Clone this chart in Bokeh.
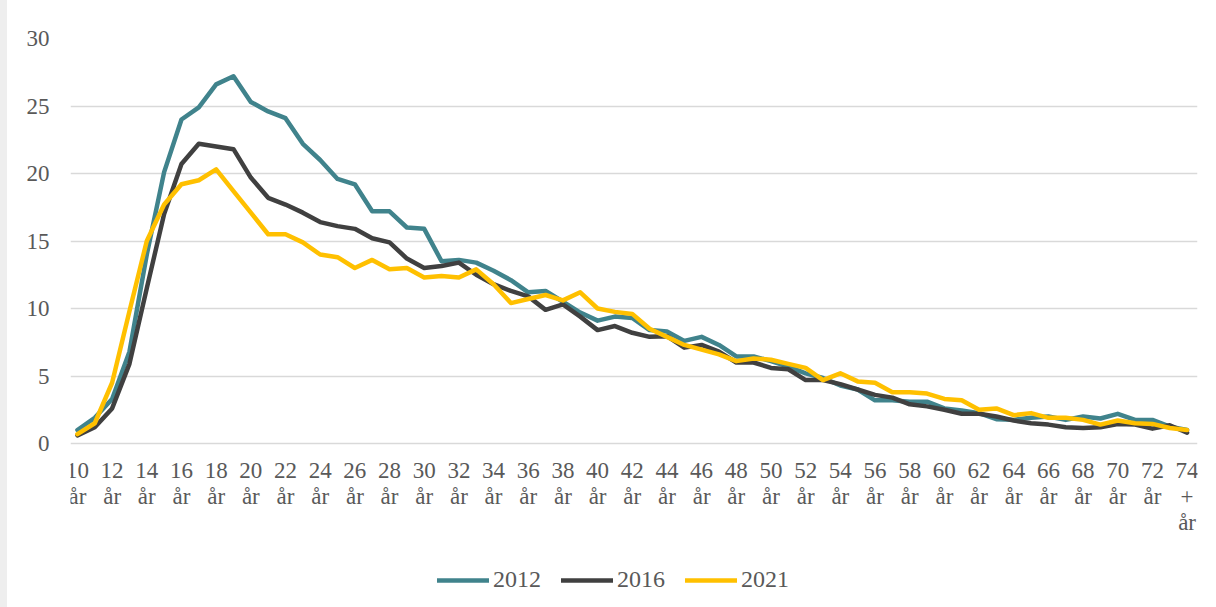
from bokeh.plotting import figure
from bokeh.models import FixedTicker, Legend, LegendItem, LinearAxis, Range1d, Grid
from bokeh.core.properties import value
from bokeh.embed import file_html
from bokeh.resources import INLINE

ages = list(range(10, 75))  # 10 år ... 74+ år
cat_labels = [f"{a} år" for a in ages[:-1]] + ["74+ år"]
tick_pos = [i for i, a in enumerate(ages) if a % 2 == 0]
# tick labels, one row per text line
row1 = [str(ages[i]) for i in tick_pos]
row2 = ["år" if ages[i] < 74 else "+" for i in tick_pos]
row3_pos = [tick_pos[-1]]
row3 = ["år"]

y_ticks = [0, 5, 10, 15, 20, 25, 30]

s2012 = [1.0, 1.9, 3.3, 6.8, 14.0, 20.1, 24.0, 24.9, 26.6, 27.2, 25.3, 24.6, 24.1, 22.2, 21.0, 19.6,
         19.2, 17.2, 17.2, 16.0, 15.9, 13.5, 13.6, 13.4, 12.8, 12.1, 11.2, 11.3, 10.5, 9.7, 9.1, 9.4,
         9.3, 8.4, 8.3, 7.6, 7.9, 7.3, 6.45, 6.45, 6.1, 5.7, 5.2, 4.85, 4.3, 4.0, 3.2, 3.2, 3.1, 3.1,
         2.6, 2.45, 2.25, 1.8, 1.75, 1.9, 2.0, 1.75, 2.0, 1.85, 2.2, 1.75, 1.75, 1.25, 1.0]
s2016 = [0.6, 1.2, 2.6, 5.9, 11.5, 17.0, 20.7, 22.2, 22.0, 21.8, 19.7, 18.2, 17.7, 17.1, 16.4, 16.1,
         15.9, 15.2, 14.9, 13.7, 13.0, 13.15, 13.4, 12.5, 11.8, 11.3, 10.9, 9.9, 10.3, 9.4, 8.4, 8.7,
         8.2, 7.9, 7.95, 7.1, 7.3, 6.8, 6.0, 6.0, 5.6, 5.5, 4.7, 4.7, 4.4, 4.0, 3.6, 3.4, 2.9, 2.75,
         2.5, 2.2, 2.2, 2.0, 1.7, 1.5, 1.4, 1.2, 1.15, 1.2, 1.45, 1.4, 1.1, 1.35, 0.8]
s2021 = [0.7, 1.5, 4.5, 9.8, 15.0, 17.7, 19.2, 19.5, 20.3, 18.7, 17.1, 15.5, 15.5, 14.9, 14.0, 13.8,
         13.0, 13.6, 12.9, 13.0, 12.3, 12.4, 12.3, 12.9, 11.8, 10.4, 10.7, 11.0, 10.6, 11.2, 10.0, 9.75,
         9.6, 8.5, 7.9, 7.3, 6.95, 6.6, 6.1, 6.3, 6.2, 5.9, 5.6, 4.7, 5.2, 4.6, 4.5, 3.8, 3.8, 3.7,
         3.3, 3.2, 2.5, 2.6, 2.1, 2.25, 1.9, 1.9, 1.75, 1.4, 1.7, 1.5, 1.45, 1.15, 1.0]

series = [("2012", s2012, "#40838C"), ("2016", s2016, "#404040"), ("2021", s2021, "#FFC000")]

FONT = "Liberation Serif"
TXT = "#595959"

# frame extends to the bottom of the picture; values 0..30 occupy the top 405 px
FRAME_H = 569
PX_PER_UNIT = 405 / 30
y_min = -(FRAME_H - 405) / PX_PER_UNIT

p = figure(frame_width=1127, frame_height=FRAME_H, output_backend="svg", toolbar_location=None,
           x_axis_location=None, y_axis_location=None,
           x_range=Range1d(-0.4, 64.6), y_range=Range1d(y_min, 30),
           min_border_left=63, min_border_right=12, min_border_top=38, min_border_bottom=0)
p.outline_line_color = None
p.background_fill_color = "white"
p.border_fill_color = "white"
p.styles = {"border-left": "7px solid #eeeeee"}
p.grid.visible = False

p.add_layout(Grid(dimension=1, ticker=FixedTicker(ticks=y_ticks),
                  grid_line_color="#d9d9d9", grid_line_width=1.5), "center")

xs = list(range(len(ages)))
items = []
for name, vals, col in series:
    r = p.line(xs, vals, line_color=col, line_width=4.5, line_join="round", line_cap="round")
    items.append(LegendItem(label=name, renderers=[r]))

yax = LinearAxis(ticker=FixedTicker(ticks=y_ticks))
yax.axis_line_color = None
yax.major_tick_line_color = None
yax.minor_tick_line_color = None
yax.major_tick_in = 0
yax.major_tick_out = 0
yax.major_label_text_font = FONT
yax.major_label_text_font_size = "23px"
yax.major_label_text_color = TXT
yax.major_label_standoff = 21
p.add_layout(yax, "left")

# x tick labels (three text rows under the plot area)
row_offsets_px = [27, 53, 79]
for pos, labels, off in ((tick_pos, row1, row_offsets_px[0]),
                         (tick_pos, row2, row_offsets_px[1]),
                         (row3_pos, row3, row_offsets_px[2])):
    p.text(x=pos, y=[-off / PX_PER_UNIT] * len(pos), text=labels,
           text_font=value(FONT), text_font_size="23px", text_color=TXT,
           text_align="center", text_baseline="middle")

legend = Legend(items=items, orientation="horizontal", location=(367, 14),
                label_text_font=FONT, label_text_font_size="24px", label_text_color=TXT,
                label_height=24, glyph_width=52, glyph_height=24, label_standoff=4, spacing=20,
                border_line_color=None, background_fill_alpha=0, margin=0, padding=4)
p.add_layout(legend, "center")

open("out.html", "w").write(file_html(p, INLINE))
